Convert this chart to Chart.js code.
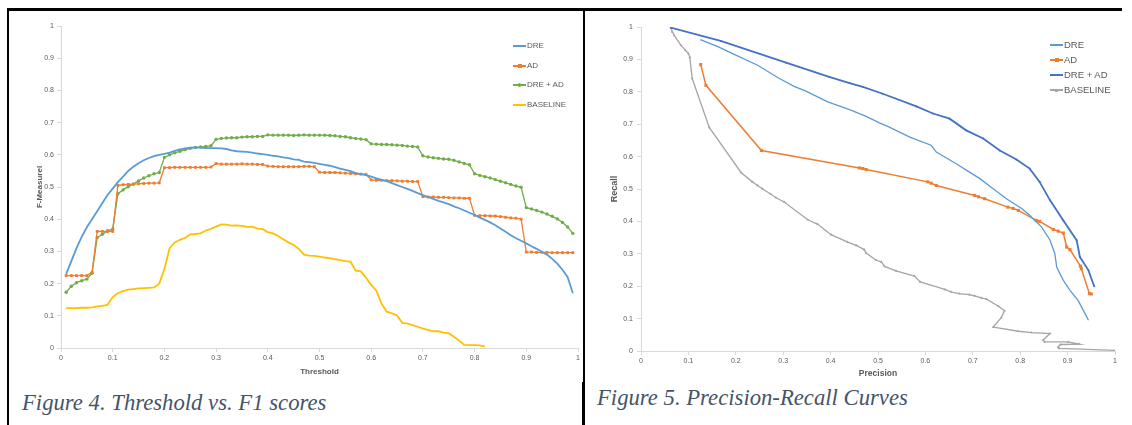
<!DOCTYPE html>
<html><head><meta charset="utf-8">
<script src="https://cdn.jsdelivr.net/npm/chart.js@4.4.0/dist/chart.umd.min.js"></script>
<style>
html,body{margin:0;padding:0;background:#fff;}
body{width:1132px;height:425px;position:relative;overflow:hidden;}
.b{position:absolute;background:#000;}
canvas{position:absolute;}
.cap{position:absolute;font-family:'Liberation Serif','Times New Roman',serif;font-style:italic;font-size:22.7px;line-height:22px;color:#44546A;white-space:nowrap;}
.li{position:absolute;height:12px;font-family:'Liberation Sans',Arial,sans-serif;color:#595959;white-space:nowrap;}
.ls{position:absolute;top:5px;height:2px;width:13px;left:0;}
.lm{position:absolute;}
.lt{position:absolute;top:0;left:14px;line-height:12px;}
</style></head><body>
<div class="b" style="left:8px;top:8px;width:577px;height:3px"></div>
<div class="b" style="left:583px;top:8px;width:539px;height:3px"></div>
<div class="b" style="left:7px;top:8px;width:2px;height:417px"></div>
<div class="b" style="left:583px;top:8px;width:1.5px;height:374px"></div>
<div class="b" style="left:582px;top:382px;width:3px;height:43px"></div>
<canvas id="c1" width="572" height="368" style="left:10px;top:12px"></canvas>
<canvas id="c2" width="535" height="370" style="left:585px;top:12px"></canvas>
<div class="cap" style="left:22px;top:392px">Figure 4. Threshold vs. F1 scores</div>
<div class="cap" style="left:597px;top:387px">Figure 5. Precision-Recall Curves</div>
<div id="leg1"></div><div id="leg2"></div>
<script>
// ---------- Figure 4 data ----------
const thresholds = [0.01,0.02,0.03,0.04,0.05,0.06,0.07,0.08,0.09,0.10,
0.11,0.12,0.13,0.14,0.15,0.16,0.17,0.18,0.19,0.20,
0.21,0.22,0.23,0.24,0.25,0.26,0.27,0.28,0.29,0.30,
0.31,0.32,0.33,0.34,0.35,0.36,0.37,0.38,0.39,0.40,
0.41,0.42,0.43,0.44,0.45,0.46,0.47,0.48,0.49,0.50,
0.51,0.52,0.53,0.54,0.55,0.56,0.57,0.58,0.59,0.60,
0.61,0.62,0.63,0.64,0.65,0.66,0.67,0.68,0.69,0.70,
0.71,0.72,0.73,0.74,0.75,0.76,0.77,0.78,0.79,0.80,
0.81,0.82,0.83,0.84,0.85,0.86,0.87,0.88,0.89,0.90,
0.91,0.92,0.93,0.94,0.95,0.96,0.97,0.98,0.99];
const f1TickLabels = ['0','0.1','0.2','0.3','0.4','0.5','0.6','0.7','0.8','0.9','1'];
const f1Names = ['DRE','AD','DRE + AD','BASELINE'];
const f1DRE = [0.23,0.27,0.31,0.345,0.375,0.40,0.425,0.45,0.475,0.495,
0.515,0.532,0.55,0.563,0.574,0.583,0.59,0.596,0.60,0.603,
0.607,0.612,0.617,0.62,0.622,0.623,0.622,0.621,0.621,0.621,
0.62,0.618,0.614,0.611,0.61,0.609,0.607,0.604,0.602,0.600,
0.597,0.595,0.592,0.59,0.586,0.584,0.579,0.577,0.575,0.572,
0.569,0.566,0.562,0.557,0.553,0.549,0.543,0.54,0.537,0.532,
0.527,0.522,0.518,0.512,0.506,0.5,0.494,0.488,0.481,0.475,
0.469,0.463,0.457,0.452,0.447,0.44,0.434,0.427,0.42,0.413,
0.405,0.398,0.39,0.381,0.371,0.361,0.35,0.341,0.333,0.325,
0.316,0.308,0.299,0.29,0.277,0.262,0.243,0.22,0.17];
const f1AD = [0.225,0.225,0.225,0.225,0.225,0.235,0.362,0.362,0.362,0.362,
0.505,0.507,0.508,0.509,0.51,0.511,0.512,0.512,0.513,0.56,
0.56,0.561,0.561,0.561,0.561,0.561,0.561,0.561,0.562,0.573,
0.571,0.571,0.571,0.571,0.572,0.571,0.571,0.57,0.57,0.565,
0.564,0.563,0.563,0.563,0.563,0.563,0.564,0.564,0.563,0.546,
0.545,0.545,0.545,0.544,0.543,0.542,0.541,0.540,0.539,0.522,
0.521,0.521,0.52,0.52,0.519,0.518,0.518,0.517,0.517,0.47,
0.469,0.469,0.468,0.468,0.467,0.466,0.466,0.465,0.465,0.412,
0.411,0.411,0.41,0.41,0.408,0.406,0.404,0.403,0.40,0.298,
0.298,0.297,0.297,0.297,0.296,0.296,0.296,0.296,0.296];
const f1DREAD = [0.173,0.192,0.203,0.209,0.214,0.232,0.343,0.353,0.364,0.369,
0.479,0.491,0.501,0.509,0.519,0.528,0.535,0.541,0.545,0.592,
0.600,0.606,0.611,0.616,0.62,0.623,0.624,0.626,0.628,0.648,
0.651,0.652,0.653,0.653,0.655,0.656,0.656,0.657,0.657,0.662,
0.661,0.661,0.661,0.661,0.660,0.661,0.662,0.661,0.661,0.661,
0.661,0.660,0.659,0.657,0.656,0.653,0.651,0.649,0.647,0.634,
0.633,0.632,0.632,0.631,0.630,0.629,0.627,0.626,0.624,0.597,
0.593,0.591,0.589,0.587,0.586,0.583,0.578,0.573,0.569,0.541,
0.536,0.532,0.528,0.523,0.518,0.513,0.508,0.503,0.499,0.436,
0.432,0.427,0.422,0.416,0.409,0.401,0.39,0.376,0.356];
const f1BASELINE = [0.124,0.124,0.124,0.125,0.125,0.126,0.129,0.131,0.134,0.158,
0.17,0.177,0.181,0.183,0.185,0.186,0.187,0.188,0.2,0.245,
0.31,0.328,0.336,0.342,0.353,0.354,0.356,0.365,0.37,0.377,
0.384,0.383,0.38,0.381,0.379,0.376,0.377,0.371,0.369,0.36,
0.356,0.348,0.338,0.328,0.32,0.308,0.29,0.287,0.286,0.284,
0.281,0.279,0.276,0.273,0.27,0.268,0.24,0.238,0.218,0.196,
0.178,0.138,0.113,0.108,0.101,0.078,0.076,0.071,0.066,0.06,
0.056,0.052,0.052,0.048,0.046,0.035,0.023,0.01,0.009,0.009,
0.008,0.004];

// ---------- Figure 5 data ----------
const prTickLabels = ['0','0.1','0.2','0.3','0.4','0.5','0.6','0.7','0.8','0.9','1'];
const prNames = ['DRE','AD','DRE + AD','BASELINE'];
const dreP = [0.125,0.161,0.2,0.246,0.292,0.323,0.348,0.394,0.44,0.475,0.503,0.524,0.567,0.612,0.623,0.665,0.693,0.715,0.743,0.771,0.803,0.82,0.831,0.845,0.863,0.873,0.877,0.891,0.905,0.922,0.933,0.944];
const dreR = [0.961,0.94,0.913,0.882,0.841,0.817,0.802,0.769,0.745,0.724,0.704,0.691,0.66,0.635,0.614,0.578,0.552,0.532,0.501,0.47,0.44,0.419,0.403,0.383,0.342,0.301,0.259,0.218,0.187,0.156,0.126,0.095];
const adP = [0.126,0.137,0.254,0.461,0.468,0.475,0.605,0.612,0.623,0.704,0.712,0.725,0.774,0.785,0.796,0.834,0.841,0.87,0.88,0.891,0.898,0.905,0.927,0.929,0.946,0.95];
const adR = [0.884,0.82,0.619,0.565,0.563,0.56,0.522,0.518,0.511,0.48,0.476,0.47,0.444,0.44,0.434,0.403,0.40,0.375,0.37,0.364,0.321,0.313,0.262,0.254,0.177,0.176];
const dreadP = [0.063,0.168,0.306,0.397,0.44,0.468,0.51,0.581,0.616,0.651,0.686,0.722,0.757,0.792,0.82,0.841,0.863,0.891,0.919,0.926,0.944,0.956];
const dreadR = [0.998,0.957,0.89,0.846,0.827,0.815,0.794,0.755,0.733,0.717,0.681,0.656,0.619,0.591,0.563,0.522,0.465,0.403,0.342,0.29,0.249,0.20];
const baseP = [0.063,0.066,0.07,0.084,0.094,0.1,0.103,0.108,0.144,0.211,0.235,0.246,0.256,0.274,0.285,0.302,0.352,0.373,0.401,0.436,0.454,0.471,0.475,0.496,0.507,0.514,0.538,0.577,0.589,0.641,0.655,0.672,0.693,0.704,0.718,0.729,0.754,0.767,0.76,0.743,0.796,0.824,0.863,0.848,0.852,0.901,0.925,0.885,0.88,0.882,1.0];
const baseR = [0.998,0.985,0.974,0.944,0.928,0.918,0.907,0.841,0.69,0.551,0.522,0.511,0.501,0.484,0.473,0.46,0.405,0.391,0.359,0.336,0.326,0.313,0.302,0.28,0.275,0.261,0.247,0.231,0.213,0.19,0.182,0.177,0.174,0.17,0.164,0.16,0.138,0.124,0.103,0.074,0.061,0.057,0.054,0.033,0.028,0.028,0.021,0.02,0.012,0.008,0.002];

const F = "'Liberation Sans', Arial, sans-serif";
const GREY = '#595959';

function pts(xs, ys){ return ys.map((v,i)=>({x:xs[i], y:v})); }

function axis(o){
  return {
    type:'linear', min:0, max:1,
    afterBuildTicks: s => { s.ticks = o.labels.map(t=>({value:parseFloat(t)})); },
    afterFit: s => { if (o.w!=null) s.width = o.w; if (o.h!=null) s.height = o.h; },
    ticks:{ callback:(v,i)=>o.labels[i], font:{family:F, size:o.tickSize}, color:GREY, padding:o.tickPad, autoSkip:false, maxRotation:0 },
    grid:{ drawOnChartArea:false, drawTicks:true, tickLength:4, color:'#D9D9D9' },
    border:{ color:'#D9D9D9', width:1 },
    title:{ display:true, text:o.title, font:{family:F, size:o.titleSize, weight:'bold'}, color:GREY, padding:o.titlePad }
  };
}

const common = {
  responsive:false, animation:false, events:[],
  plugins:{ legend:{display:false}, tooltip:{enabled:false} }
};

const c1Colors = ['#5B9BD5','#ED7D31','#70AD47','#FFC000'];
new Chart(document.getElementById('c1'), {
  type:'scatter',
  data:{ datasets:[
    {label:f1Names[0], data:pts(thresholds,f1DRE), showLine:true, borderColor:c1Colors[0], borderWidth:1.8, pointRadius:0},
    {label:f1Names[1], data:pts(thresholds,f1AD), showLine:true, borderColor:c1Colors[1], borderWidth:1.3, pointStyle:'rect', pointRadius:2, pointBackgroundColor:c1Colors[1], pointBorderWidth:0},
    {label:f1Names[2], data:pts(thresholds,f1DREAD), showLine:true, borderColor:c1Colors[2], borderWidth:1.3, pointStyle:'circle', pointRadius:1.7, pointBackgroundColor:c1Colors[2], pointBorderWidth:0},
    {label:f1Names[3], data:pts(thresholds,f1BASELINE), showLine:true, borderColor:c1Colors[3], borderWidth:1.8, pointRadius:0}
  ]},
  options:Object.assign({}, common, {
    layout:{ padding:{left:0, right:4, top:14, bottom:0} },
    scales:{
      x: axis({labels:f1TickLabels, h:32, tickSize:7, tickPad:2, title:'Threshold', titleSize:8, titlePad:{top:0,bottom:3}}),
      y: axis({labels:f1TickLabels, w:51, tickSize:7, tickPad:3, title:'F-Measurel', titleSize:8, titlePad:{top:25,bottom:0}})
    }
  })
});

const c2Colors = ['#5B9BD5','#ED7D31','#4472C4','#A5A5A5'];
new Chart(document.getElementById('c2'), {
  type:'scatter',
  data:{ datasets:[
    {label:prNames[0], data:pts(dreP,dreR), showLine:true, borderColor:c2Colors[0], borderWidth:1.3, pointRadius:0},
    {label:prNames[1], data:pts(adP,adR), showLine:true, borderColor:c2Colors[1], borderWidth:1.5, pointStyle:'rect', pointRadius:2.2, pointBackgroundColor:c2Colors[1], pointBorderWidth:0},
    {label:prNames[2], data:pts(dreadP,dreadR), showLine:true, borderColor:c2Colors[2], borderWidth:1.8, pointRadius:1, pointBackgroundColor:c2Colors[2], pointBorderWidth:0},
    {label:prNames[3], data:pts(baseP,baseR), showLine:true, borderColor:c2Colors[3], borderWidth:1.3, pointStyle:'triangle', pointRadius:1.6, pointBackgroundColor:c2Colors[3], pointBorderWidth:0}
  ]},
  options:Object.assign({}, common, {
    layout:{ padding:{left:0, right:5, top:15, bottom:0} },
    scales:{
      x: axis({labels:prTickLabels, h:31, tickSize:7, tickPad:2, title:'Precision', titleSize:8.5, titlePad:{top:0,bottom:3}}),
      y: axis({labels:prTickLabels, w:56, tickSize:7, tickPad:4, title:'Recall', titleSize:9, titlePad:{top:24,bottom:0}})
    }
  })
});

// ---------- HTML legends ----------
function legend(el, names, colors, markers, x, ys, fs){
  names.forEach((n,i)=>{
    const d = document.createElement('div');
    d.className = 'li';
    d.style.left = x+'px'; d.style.top = (ys[i]-6)+'px'; d.style.fontSize = fs+'px';
    const s = document.createElement('span'); s.className='ls'; s.style.background = colors[i]; d.appendChild(s);
    const m = markers[i];
    if (m) {
      const k = document.createElement('span'); k.className='lm';
      k.style.width = m.s+'px'; k.style.height = m.s+'px';
      k.style.left = (6.5-m.s/2)+'px'; k.style.top = (6-m.s/2)+'px';
      k.style.background = colors[i];
      if (m.round) k.style.borderRadius = '50%';
      d.appendChild(k);
    }
    const t = document.createElement('span'); t.className='lt'; t.textContent = n; d.appendChild(t);
    el.appendChild(d);
  });
}
legend(document.getElementById('leg1'), f1Names, c1Colors,
  [null,{s:4},{s:3.2,round:true},null], 513, [46,65.5,85,105], 8);
legend(document.getElementById('leg2'), prNames, c2Colors,
  [null,{s:4},{s:2},{s:3}], 1050, [45,60,75,90], 9.5);
</script>
</body></html>
